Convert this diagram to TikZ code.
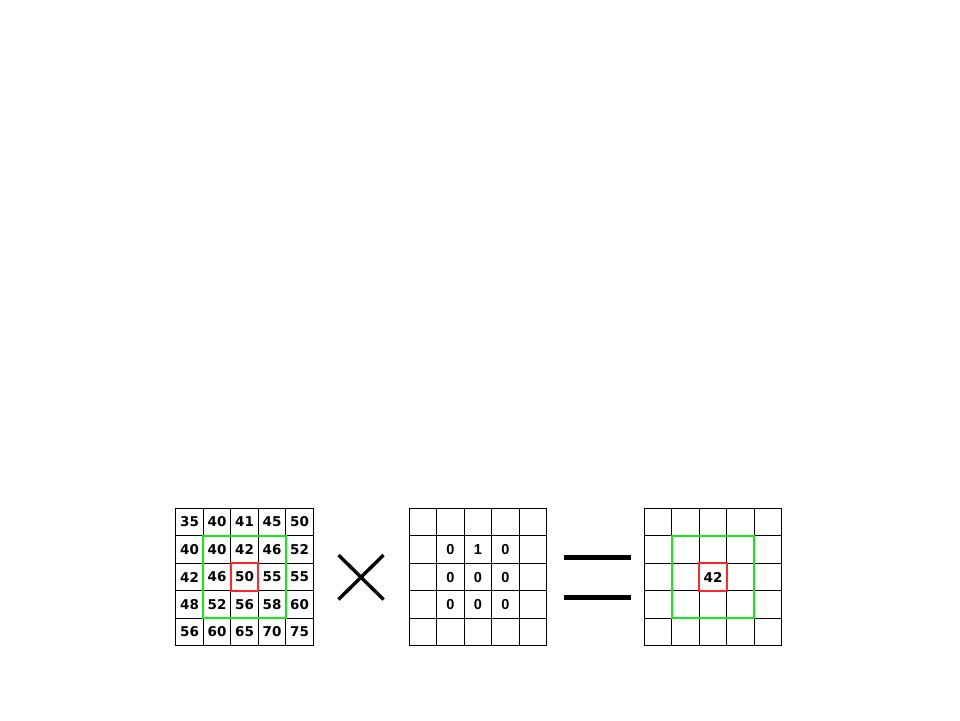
\documentclass[tikz,border=0pt]{standalone}
\usepackage{fontspec}
\newfontfamily\dvb{DejaVu Sans}
\newfontfamily\lib{Liberation Sans}
\begin{document}
\begin{tikzpicture}[x=1pt,y=-1pt,
  cell/.style={minimum size=27.5pt,inner sep=0pt,outer sep=0pt,anchor=north west},
  gridline/.style={draw=black,line width=1.4pt,line cap=rect},
  numA/.style={font=\dvb\bfseries\fontsize{13.5}{15}\selectfont},
  numB/.style={font=\lib\bfseries\fontsize{14.5}{16}\selectfont},
  greenbox/.style={draw={rgb,255:red,20;green,235;blue,20},line width=1.8pt},
  redbox/.style={draw={rgb,255:red,255;green,40;blue,40},line width=1.6pt}]
\useasboundingbox (0,0) rectangle (960,720);
\fill[white] (0,0) rectangle (960,720);
\def\s{27.5}
% grid 1 cells
\foreach \row [count=\r from 0] in {{35,40,41,45,50},{40,40,42,46,52},{42,46,50,55,55},{48,52,56,58,60},{56,60,65,70,75}}{
  \foreach \v [count=\c from 0] in \row {
    \node[cell,numA] (a-\r-\c) at ({175.75+\c*\s},{508.25+\r*\s}) {\v};
  }
}
% grid 2 and 3 cells
\foreach \r in {0,...,4}{
  \foreach \c in {0,...,4}{
    \node[cell] (b-\r-\c) at ({409.25+\c*\s},{508.25+\r*\s}) {};
    \node[cell] (c-\r-\c) at ({644.25+\c*\s},{508.25+\r*\s}) {};
  }
}
% grid lines
\foreach \g in {a,b,c}{
  \foreach \i in {0,...,4}{
    \draw[gridline] (\g-\i-0.north west) -- (\g-\i-4.north east);
    \draw[gridline] (\g-0-\i.north west) -- (\g-4-\i.south west);
  }
  \draw[gridline] (\g-4-0.south west) -- (\g-4-4.south east);
  \draw[gridline] (\g-0-4.north east) -- (\g-4-4.south east);
}
% kernel values
\node[numB] at (b-1-1) {0};
\node[numB] at (b-1-2) {1};
\node[numB] at (b-1-3) {0};
\node[numB] at (b-2-1) {0};
\node[numB] at (b-2-2) {0};
\node[numB] at (b-2-3) {0};
\node[numB] at (b-3-1) {0};
\node[numB] at (b-3-2) {0};
\node[numB] at (b-3-3) {0};
% result
\node[numA] at (c-2-2) {42};
% highlight boxes
\draw[greenbox] (a-1-1.north west) -- (a-1-3.north east) -- (a-3-3.south east) -- (a-3-1.south west) -- cycle;
\draw[redbox] (a-2-2.north west) -- (a-2-2.north east) -- (a-2-2.south east) -- (a-2-2.south west) -- cycle;
\draw[greenbox] (c-1-1.north west) -- (c-1-3.north east) -- (c-3-3.south east) -- (c-3-1.south west) -- cycle;
\draw[redbox] (c-2-2.north west) -- (c-2-2.north east) -- (c-2-2.south east) -- (c-2-2.south west) -- cycle;
% times
\coordinate (x1) at (338.5,555);
\coordinate (x2) at (383.5,599.5);
\coordinate (x3) at (383.5,555);
\coordinate (x4) at (338.5,599.5);
\draw[line width=3.4pt] (x1) -- (x2);
\draw[line width=3.4pt] (x3) -- (x4);
% equals
\coordinate (e1) at (563.5,557.5);
\coordinate (e2) at (630.5,557.5);
\coordinate (e3) at (563.5,597);
\coordinate (e4) at (630.5,597);
\draw[line width=5pt] (e1) -- (e2);
\draw[line width=5pt] (e3) -- (e4);
\end{tikzpicture}
\end{document}
